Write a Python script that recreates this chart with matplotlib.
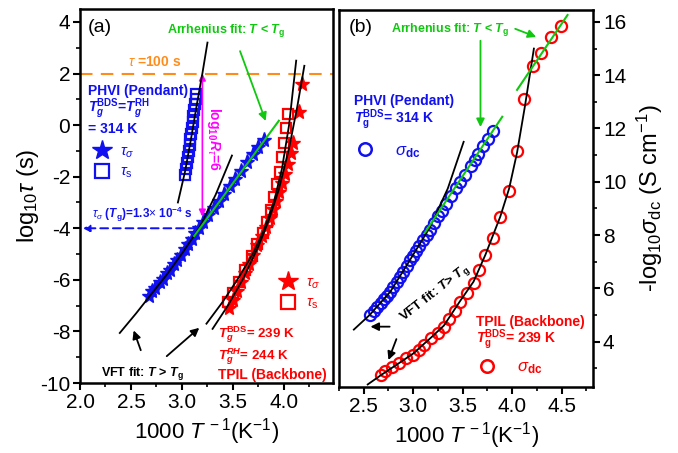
import matplotlib
matplotlib.use('Agg')
import matplotlib.pyplot as plt
from matplotlib.lines import Line2D

plt.rcParams['font.family'] = ['Liberation Sans', 'DejaVu Sans']
plt.rcParams['axes.unicode_minus'] = False
plt.rcParams['mathtext.fontset'] = 'custom'
plt.rcParams['mathtext.rm'] = 'Liberation Sans'
plt.rcParams['mathtext.it'] = 'Liberation Sans:italic'
plt.rcParams['mathtext.bf'] = 'Liberation Sans:bold'
plt.rcParams['mathtext.bfit'] = 'Liberation Sans:bold:italic'

BLUE = '#1010F0'
RED = '#FF0000'
GREEN = '#10C810'
MAGENTA = '#FF00FF'
ORANGE = '#FF8C1A'

# ---- panel (a): relaxation times ----
phvi_tau_sig_x = [2.68, 2.71, 2.74, 2.78, 2.81, 2.85, 2.88, 2.92, 2.95, 2.99, 3.03, 3.06, 3.10, 3.13, 3.17,
                  3.21, 3.26, 3.31, 3.36, 3.41, 3.47, 3.52, 3.58, 3.64, 3.70, 3.75, 3.80]
phvi_tau_sig_y = [-6.62, -6.45, -6.30, -6.10, -5.95, -5.75, -5.60, -5.40, -5.22, -5.02, -4.80, -4.62, -4.40, -4.20, -3.98,
                  -3.76, -3.50, -3.22, -2.96, -2.68, -2.36, -2.09, -1.77, -1.44, -1.12, -0.85, -0.58]
phvi_tau_s_x = [3.03, 3.04, 3.05, 3.06, 3.07, 3.075, 3.08, 3.09, 3.10, 3.105, 3.11, 3.12, 3.13, 3.135, 3.14]
phvi_tau_s_y = [-1.95, -1.70, -1.45, -1.22, -1.00, -0.78, -0.55, -0.33, -0.10, 0.12, 0.35, 0.57, 0.80, 1.00, 1.20]

tpil_tau_sig_x = [3.46, 3.50, 3.54, 3.58, 3.62, 3.66, 3.70, 3.74, 3.78, 3.82, 3.86, 3.89, 3.92, 3.95, 3.98,
                  4.01, 4.04, 4.07, 4.09, 4.15, 4.18]
tpil_tau_sig_y = [-7.10, -6.80, -6.45, -6.10, -5.75, -5.40, -5.05, -4.65, -4.30, -3.95, -3.60, -3.25, -2.95, -2.60, -2.25,
                  -1.90, -1.50, -1.10, -0.70, 0.50, 1.60]
tpil_tau_s_x = [3.45, 3.50, 3.56, 3.62, 3.69, 3.74, 3.79, 3.83, 3.87, 3.90, 3.93, 3.96, 3.98, 4.00, 4.02, 4.04]
tpil_tau_s_y = [-6.85, -6.50, -6.10, -5.60, -5.07, -4.60, -4.20, -3.75, -3.30, -2.80, -2.30, -1.80, -1.25, -0.70, -0.10, 0.45]

# fit curves
vft_a_sig_x = [2.39, 2.55, 2.70, 2.85, 3.00, 3.17, 3.33, 3.49]
vft_a_sig_y = [-8.06, -7.30, -6.55, -5.80, -4.98, -3.98, -2.70, -1.18]
vft_a_s_x = [2.96, 3.03, 3.09, 3.15, 3.20, 3.25]
vft_a_s_y = [-3.0, -1.8, -0.5, 0.9, 2.0, 3.2]
vft_a_tp1_x = [3.24, 3.40, 3.55, 3.70, 3.80, 3.90, 3.98, 4.05, 4.12]
vft_a_tp1_y = [-7.70, -6.85, -5.95, -4.95, -4.10, -3.00, -1.70, 0.00, 2.50]
vft_a_tp2_x = [3.30, 3.45, 3.60, 3.75, 3.85, 3.95, 4.05, 4.13, 4.20]
vft_a_tp2_y = [-7.90, -7.00, -5.95, -4.70, -3.70, -2.50, -0.90, 0.70, 2.30]
arr_a_x = [3.12, 3.95]
arr_a_y = [-4.30, 0.17]

# ---- panel (b): dc conductivity ----
phvi_sdc_x = [2.56, 2.60, 2.63, 2.67, 2.70, 2.74, 2.77, 2.80, 2.84, 2.87, 2.90, 2.94, 2.97, 3.00, 3.03, 3.06, 3.10,
              3.14, 3.17, 3.21, 3.25, 3.29, 3.33, 3.38, 3.43, 3.47, 3.52, 3.58, 3.62, 3.66, 3.71, 3.76, 3.81]
phvi_sdc_y = [5.00, 5.15, 5.30, 5.46, 5.60, 5.73, 5.88, 6.05, 6.25, 6.44, 6.62, 6.85, 7.08, 7.22, 7.40, 7.57, 7.80,
              8.02, 8.20, 8.45, 8.70, 8.92, 9.15, 9.45, 9.75, 9.98, 10.25, 10.60, 10.83, 11.05, 11.35, 11.62, 11.90]
tpil_sdc_x = [2.67, 2.72, 2.79, 2.86, 2.93, 3.00, 3.06, 3.11, 3.18, 3.25, 3.31, 3.36, 3.42, 3.47, 3.54, 3.61, 3.67,
              3.73, 3.81, 3.88, 3.97, 4.05, 4.12, 4.21, 4.29, 4.39, 4.49]
tpil_sdc_y = [2.73, 2.88, 3.06, 3.20, 3.40, 3.50, 3.70, 3.89, 4.15, 4.34, 4.56, 4.85, 5.15, 5.50, 5.84, 6.20, 6.70,
              7.26, 7.90, 8.69, 9.66, 11.16, 13.10, 14.33, 14.84, 15.43, 15.85]

vft_b_ph_x = [2.40, 2.56, 2.77, 2.97, 3.17, 3.35, 3.51]
vft_b_ph_y = [4.45, 5.00, 5.88, 7.08, 8.30, 9.75, 11.50]
vft_b_tp_x = [2.54, 2.67, 2.86, 3.00, 3.18, 3.31, 3.47, 3.61, 3.73, 3.88, 3.97, 4.05, 4.13, 4.22]
vft_b_tp_y = [2.39, 2.73, 3.20, 3.55, 4.15, 4.60, 5.50, 6.25, 7.26, 8.69, 9.75, 11.10, 12.85, 15.00]
arr_b_ph_x = [3.12, 3.90]
arr_b_ph_y = [8.10, 12.44]
arr_b_tp_x = [4.05, 4.56]
arr_b_tp_y = [13.45, 16.26]

fig = plt.figure(figsize=(6.78, 4.53), dpi=100)
axa = fig.add_axes([0.118, 0.1545, 0.373, 0.8255])
axb = fig.add_axes([0.500, 0.146, 0.375, 0.832])


def style_axis(ax):
    for s in ax.spines.values():
        s.set_linewidth(1.8)
    ax.tick_params(which='major', direction='out', length=5, width=1.5, labelsize=15, pad=2)
    ax.tick_params(which='minor', direction='out', length=3, width=1.2)


# ---------- (a) ----------
ax = axa
ax.plot(phvi_tau_sig_x, phvi_tau_sig_y, ls='none', marker='*', ms=11, color=BLUE, mec=BLUE, zorder=3)
ax.plot(phvi_tau_s_x, phvi_tau_s_y, ls='none', marker='s', ms=7.5, mfc='none', mec=BLUE, mew=1.6, zorder=3)
ax.plot(tpil_tau_sig_x, tpil_tau_sig_y, ls='none', marker='*', ms=11, color=RED, mec=RED, zorder=3)
ax.plot(tpil_tau_s_x, tpil_tau_s_y, ls='none', marker='s', ms=7.5, mfc='none', mec=RED, mew=1.6, zorder=3)
for fx, fy in [(vft_a_sig_x, vft_a_sig_y), (vft_a_s_x, vft_a_s_y),
               (vft_a_tp1_x, vft_a_tp1_y), (vft_a_tp2_x, vft_a_tp2_y)]:
    ax.plot(fx, fy, color='black', lw=1.3, zorder=4)
ax.plot(arr_a_x, arr_a_y, color=GREEN, lw=1.5, zorder=4)
ax.axhline(2, color=ORANGE, ls=(0, (6, 4)), lw=1.5, zorder=2)

ax.set_xlim(2.0, 4.48)
ax.set_ylim(-10, 4.5)
ax.set_xticks([2.0, 2.5, 3.0, 3.5, 4.0])
ax.set_xticks([2.25, 2.75, 3.25, 3.75, 4.25], minor=True)
ax.set_yticks(range(-10, 5, 2))
ax.set_yticks(range(-9, 5, 2), minor=True)
style_axis(ax)
ax.set_xlabel(r'1000 $T^{\,-1}$(K$^{-1}$)', fontsize=16, labelpad=3)
ax.set_ylabel(r'log$_{10}\tau$ (s)', fontsize=17, labelpad=-1)

ax.text(2.08, 3.79, '(a)', fontsize=14, va='center', ha='left')
ax.text(2.85, 3.67, r'Arrhenius fit: $\mathbfit{T}$ < $\mathbfit{T}_\mathbf{g}$', color=GREEN,
        fontsize=9, fontweight='bold', va='center')
ax.annotate('', xy=(3.83, 0.06), xytext=(3.56, 2.97),
            arrowprops=dict(arrowstyle='-|>', color=GREEN, lw=1.3, mutation_scale=12))
ax.text(2.47, 2.43, r'$\tau$ =100 s', color=ORANGE, fontsize=10, fontweight='bold', va='center')
ax.text(2.08, 1.15, 'PHVI (Pendant)', color=BLUE, fontsize=10, fontweight='bold')
ax.text(2.08, 0.49, r'$\mathbfit{T}_\mathbfit{g}^\mathbf{BDS}$=$\mathbfit{T}_\mathbfit{g}^\mathbf{RH}$',
        color=BLUE, fontsize=10, fontweight='bold')
ax.text(2.08, -0.29, '= 314 K', color=BLUE, fontsize=10, fontweight='bold')
ax.text(2.12, -3.59, r'$\tau_\sigma$ ($\mathbfit{T}_\mathbf{g}$)=1.3$\times$ 10$^{\mathbf{-4}}$ s',
        color=BLUE, fontsize=8.5, fontweight='bold')
ax.annotate('', xy=(2.0, -4.0), xytext=(3.17, -4.0),
            arrowprops=dict(arrowstyle='-|>', color=BLUE, lw=1.4, ls=(0, (4, 2.5)), mutation_scale=10),
            annotation_clip=False)
ax.annotate('', xy=(3.20, -3.55), xytext=(3.20, 2.0),
            arrowprops=dict(arrowstyle='<|-|>', color=MAGENTA, lw=1.2, mutation_scale=10, shrinkA=0, shrinkB=0))
ax.text(3.31, -0.52, r'log$_{\mathbf{10}}$$\mathbfit{R}_\tau$=6', color=MAGENTA, fontsize=10,
        fontweight='bold', rotation=270, ha='center', va='center')
ax.text(2.21, -9.73, r'VFT fit: $\mathbfit{T}$ > $\mathbfit{T}_\mathbf{g}$', fontsize=9, fontweight='bold')
ax.annotate('', xy=(2.517, -7.86), xytext=(2.605, -8.83),
            arrowprops=dict(arrowstyle='-|>', color='black', lw=1.3, mutation_scale=12))
ax.annotate('', xy=(3.19, -7.79), xytext=(2.83, -9.03),
            arrowprops=dict(arrowstyle='-|>', color='black', lw=1.3, mutation_scale=12))
ax.text(3.35, -8.25, r'$\mathbfit{T}_\mathbfit{g}^\mathbf{BDS}$= 239 K', color=RED, fontsize=9.5, fontweight='bold')
ax.text(3.35, -9.07, r'$\mathbfit{T}_\mathbfit{g}^\mathbfit{RH}$= 244 K', color=RED, fontsize=9.5, fontweight='bold')
ax.text(3.35, -9.86, 'TPIL (Backbone)', color=RED, fontsize=10, fontweight='bold')

h_blue = [Line2D([], [], ls='none', marker='*', ms=15, color=BLUE),
          Line2D([], [], ls='none', marker='s', ms=10, mfc='none', mec=BLUE, mew=1.6)]
leg1 = ax.legend(h_blue, [r'$\tau_\sigma$', r'$\tau_\mathrm{s}$'], loc='center left',
                 bbox_to_anchor=(0.02, 0.59), frameon=False, fontsize=11, labelcolor=BLUE,
                 handlelength=1.2, handletextpad=0.6, labelspacing=0.35, borderpad=0)
ax.add_artist(leg1)
h_red = [Line2D([], [], ls='none', marker='*', ms=15, color=RED),
         Line2D([], [], ls='none', marker='s', ms=10, mfc='none', mec=RED, mew=1.6)]
ax.legend(h_red, [r'$\tau_\sigma$', r'$\tau_\mathrm{s}$'], loc='center left',
          bbox_to_anchor=(0.755, 0.24), frameon=False, fontsize=11, labelcolor=RED,
          handlelength=1.2, handletextpad=0.6, labelspacing=0.35, borderpad=0)

# ---------- (b) ----------
ax = axb
ax.plot(phvi_sdc_x, phvi_sdc_y, ls='none', marker='o', ms=8, mfc='none', mec=BLUE, mew=1.6, zorder=3)
ax.plot(tpil_sdc_x, tpil_sdc_y, ls='none', marker='o', ms=8, mfc='none', mec=RED, mew=1.6, zorder=3)
ax.plot(vft_b_ph_x, vft_b_ph_y, color='black', lw=1.3, zorder=4)
ax.plot(vft_b_tp_x, vft_b_tp_y, color='black', lw=1.3, zorder=4)
ax.plot(arr_b_ph_x, arr_b_ph_y, color=GREEN, lw=1.5, zorder=4)
ax.plot(arr_b_tp_x, arr_b_tp_y, color=GREEN, lw=1.5, zorder=4)

ax.set_xlim(2.26, 4.82)
ax.set_ylim(2.3, 16.45)
ax.set_xticks([2.5, 3.0, 3.5, 4.0, 4.5])
ax.set_xticks([2.25, 2.75, 3.25, 3.75, 4.25, 4.75], minor=True)
ax.set_yticks(range(4, 17, 2))
ax.set_yticks(range(3, 17, 2), minor=True)
ax.yaxis.tick_right()
ax.yaxis.set_label_position('right')
style_axis(ax)
ax.set_xlabel(r'1000 $T^{\,-1}$(K$^{-1}$)', fontsize=16, labelpad=3)
ax.set_ylabel(r'-log$_{10}\sigma_\mathrm{dc}$ (S cm$^{-1}$)', fontsize=17, labelpad=6)

ax.text(2.35, 15.81, '(b)', fontsize=14, va='center', ha='left')
ax.text(2.78, 15.63, r'Arrhenius fit: $\mathbfit{T}$ < $\mathbfit{T}_\mathbf{g}$', color=GREEN,
        fontsize=9, fontweight='bold')
ax.annotate('', xy=(4.27, 15.4), xytext=(4.005, 15.78),
            arrowprops=dict(arrowstyle='-|>', color=GREEN, lw=1.3, mutation_scale=12))
ax.annotate('', xy=(3.68, 11.95), xytext=(3.68, 15.4),
            arrowprops=dict(arrowstyle='-|>', color=GREEN, lw=1.3, mutation_scale=12))
ax.text(2.40, 12.89, 'PHVI (Pendant)', color=BLUE, fontsize=10, fontweight='bold')
ax.text(2.40, 12.21, r'$\mathbfit{T}_\mathbf{g}^\mathbf{BDS}$= 314 K', color=BLUE, fontsize=10, fontweight='bold')
ax.text(3.22, 5.80, r'VFT fit: $\mathbfit{T}$> $\mathbfit{T}_\mathbf{g}$', fontsize=9.5, fontweight='bold',
        rotation=38, ha='center', va='center')
ax.annotate('', xy=(2.54, 4.56), xytext=(2.79, 4.56),
            arrowprops=dict(arrowstyle='-|>', color='black', lw=1.3, mutation_scale=12))
ax.annotate('', xy=(2.74, 3.21), xytext=(2.84, 4.19),
            arrowprops=dict(arrowstyle='-|>', color='black', lw=1.3, mutation_scale=12))
ax.text(3.63, 4.6, 'TPIL (Backbone)', color=RED, fontsize=10, fontweight='bold')
ax.text(3.63, 3.96, r'$\mathbfit{T}_\mathbf{g}^\mathbf{BDS}$= 239 K', color=RED, fontsize=10, fontweight='bold')

hb = [Line2D([], [], ls='none', marker='o', ms=9, mfc='none', mec=BLUE, mew=1.8)]
leg3 = ax.legend(hb, [r'$\sigma_\mathbf{dc}$'], loc='center left', bbox_to_anchor=(0.03, 0.625),
                 frameon=False, fontsize=12, labelcolor=BLUE, handlelength=1.2, handletextpad=1.2, borderpad=0)
ax.add_artist(leg3)
hr = [Line2D([], [], ls='none', marker='o', ms=9, mfc='none', mec=RED, mew=1.8)]
ax.legend(hr, [r'$\sigma_\mathbf{dc}$'], loc='center left', bbox_to_anchor=(0.51, 0.05),
          frameon=False, fontsize=12, labelcolor=RED, handlelength=1.2, handletextpad=1.2, borderpad=0)

fig.savefig('out.png', dpi=100)
